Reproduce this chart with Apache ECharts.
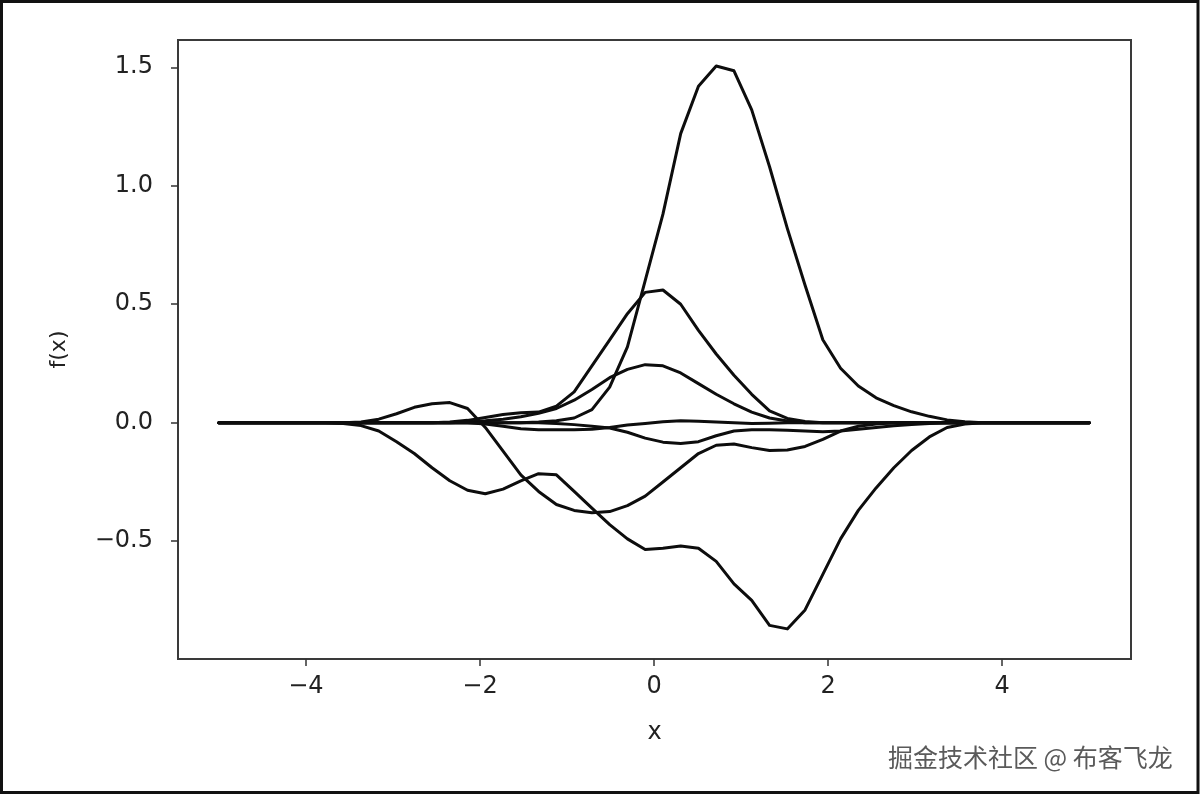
<!DOCTYPE html>
<html><head><meta charset="utf-8">
<script src="https://cdn.jsdelivr.net/npm/echarts@6/dist/echarts.min.js"></script>
<style>html,body{margin:0;padding:0;background:#fff;}#c{width:1201px;height:796px;}</style>
</head><body><div id="c"></div>
<script>
// x grid (50 points from -5 to 5)
const xs = [-5.000,-4.796,-4.592,-4.388,-4.184,-3.980,-3.776,-3.571,-3.367,-3.163,
  -2.959,-2.755,-2.551,-2.347,-2.143,-1.939,-1.735,-1.531,-1.327,-1.122,
  -0.918,-0.714,-0.510,-0.306,-0.102,0.102,0.306,0.510,0.714,0.918,
  1.122,1.327,1.531,1.735,1.939,2.143,2.347,2.551,2.755,2.959,
  3.163,3.367,3.571,3.776,3.980,4.184,4.388,4.592,4.796,5.000];

const curveA = [0,0,0,0,0,0,0,0,0,0,
  0,0,0,0,0,0,0,0,0.003,0.008,
  0.02,0.055,0.15,0.32,0.60,0.88,1.22,1.42,1.505,1.485,
  1.32,1.08,0.82,0.58,0.35,0.23,0.155,0.105,0.072,0.046,
  0.027,0.012,0.004,0,0,0,0,0,0,0];

const curveC = [0,0,0,0,0,0,0,-0.003,-0.012,-0.035,
  -0.08,-0.13,-0.19,-0.245,-0.285,-0.30,-0.28,-0.245,-0.215,-0.22,
  -0.29,-0.36,-0.43,-0.49,-0.535,-0.53,-0.52,-0.53,-0.585,-0.68,
  -0.75,-0.855,-0.87,-0.79,-0.64,-0.49,-0.37,-0.275,-0.19,-0.117,
  -0.06,-0.02,-0.005,0,0,0,0,0,0,0];

const curveD = [0,0,0,0,0,0,0,0,0.003,0.015,
  0.038,0.065,0.08,0.085,0.06,-0.02,-0.12,-0.22,-0.29,-0.345,
  -0.37,-0.38,-0.375,-0.35,-0.31,-0.25,-0.19,-0.13,-0.095,-0.09,
  -0.105,-0.117,-0.115,-0.10,-0.07,-0.035,-0.015,-0.005,0,0,
  0,0,0,0,0,0,0,0,0,0];

const curveE = [0,0,0,0,0,0,0,0,0,0,
  0,0,0,0.003,0.01,0.022,0.035,0.042,0.045,0.07,
  0.13,0.24,0.35,0.46,0.55,0.56,0.50,0.39,0.29,0.20,
  0.12,0.05,0.018,0.005,0,0,0,0,0,0,
  0,0,0,0,0,0,0,0,0,0];

const curveF = [0,0,0,0,0,0,0,0,0,0,
  0,0,0,0,0.003,0.008,0.015,0.025,0.04,0.06,
  0.095,0.14,0.19,0.225,0.245,0.24,0.21,0.165,0.12,0.08,
  0.045,0.02,0.007,0,0,0,0,0,0,0,
  0,0,0,0,0,0,0,0,0,0];

const curveH = [0,0,0,0,0,0,0,0,0,0,
  0,0,0,0,0,0,0,0,0,-0.003,
  -0.008,-0.015,-0.022,-0.04,-0.065,-0.082,-0.088,-0.08,-0.055,-0.035,
  -0.03,-0.03,-0.032,-0.035,-0.038,-0.035,-0.028,-0.02,-0.013,-0.007,
  -0.003,0,0,0,0,0,0,0,0,0];

const curveJ = [0,0,0,0,0,0,0,0,0,0,
  0,0,0,0,0,-0.005,-0.015,-0.025,-0.03,-0.03,
  -0.03,-0.028,-0.02,-0.01,-0.003,0.004,0.008,0.006,0.003,0,
  -0.003,-0.002,0,0,0,0,0,0,0,0,
  0,0,0,0,0,0,0,0,0,0];

const xTicks = [-4, -2, 0, 2, 4];
const yTicks = [-0.5, 0, 0.5, 1, 1.5];
const xName = 'x';
const yName = 'f(x)';
const watermark = '掘金技术社区 @ 布客飞龙';

const curves = [curveA, curveC, curveD, curveE, curveF, curveH, curveJ];
const minus = s => s.replace('-', '\u2212');

const chart = echarts.init(document.getElementById('c'), null, {renderer: 'canvas'});
chart.setOption({
  animation: false,
  backgroundColor: '#fff',
  grid: {left: 178, right: 70, top: 40, bottom: 137, show: true, borderColor: '#3a3a3a', borderWidth: 2, backgroundColor: 'transparent'},
  xAxis: {
    type: 'value', min: -5.47, max: 5.48,
    axisLine: {show: false, onZero: false},
    splitLine: {show: false},
    axisTick: {show: true, customValues: xTicks, length: 7, lineStyle: {color: '#333', width: 1.5}},
    axisLabel: {customValues: xTicks, formatter: v => minus(String(v)), fontSize: 24, color: '#222', margin: 16, fontFamily: 'DejaVu Sans'},
    name: xName, nameLocation: 'middle', nameGap: 62,
    nameTextStyle: {fontSize: 24, color: '#222', fontFamily: 'DejaVu Sans'}
  },
  yAxis: {
    type: 'value', min: -0.997, max: 1.615,
    axisLine: {show: false, onZero: false},
    splitLine: {show: false},
    axisTick: {show: true, customValues: yTicks, length: 7, lineStyle: {color: '#333', width: 1.5}},
    axisLabel: {customValues: yTicks, formatter: v => minus(v.toFixed(1)), fontSize: 24, color: '#222', margin: 25, fontFamily: 'DejaVu Sans'},
    name: yName, nameLocation: 'middle', nameGap: 108, nameRotate: 90,
    nameTextStyle: {fontSize: 22, color: '#222', fontFamily: 'DejaVu Sans'}
  },
  series: curves.map(c => ({
    type: 'line', data: xs.map((x, i) => [x, c[i]]),
    symbol: 'none', silent: true, smooth: false,
    lineStyle: {color: '#0d0d0d', width: 3, join: 'round', cap: 'round'}
  })),
  graphic: [
    {type: 'rect', shape: {x: 1.5, y: 1.5, width: 1196.5, height: 791}, style: {fill: 'none', stroke: '#111', lineWidth: 3}, silent: true},
    {type: 'text', left: 888, top: 745, style: {text: watermark, font: '25px "Noto Sans CJK SC"', fill: '#5a5a5a'}, silent: true}
  ]
});
</script></body></html>
